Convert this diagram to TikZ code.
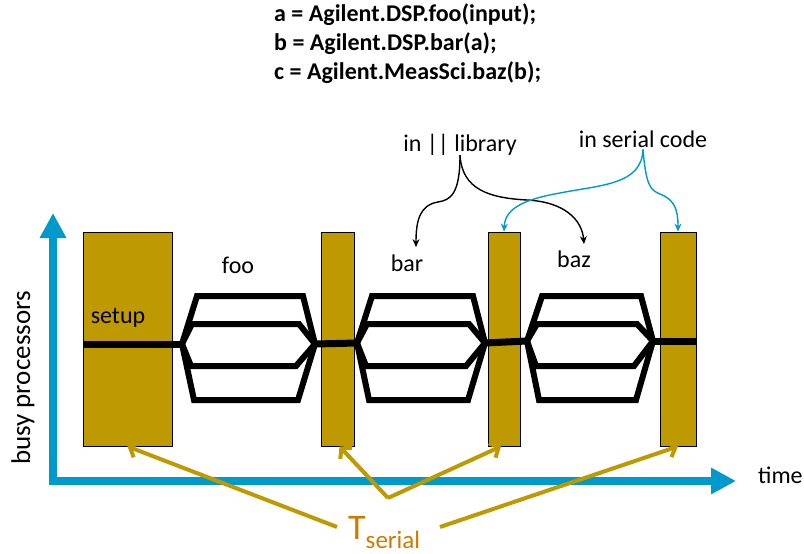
\documentclass[tikz,border=0pt]{standalone}
\usepackage{fontspec}
\setmainfont{Carlito}
\usetikzlibrary{arrows.meta}
\definecolor{axisblue}{RGB}{0,153,204}
\definecolor{boxgold}{RGB}{191,153,0}
\definecolor{tcol}{RGB}{204,122,0}
\newcommand\hexpar[4]{%
  \coordinate (#1L) at (#2,#4);
  \coordinate (#1R) at (#3,#4);
  \draw[hexline] (#1L) -- ({#2+15},296) -- ({#3-12},296) -- (#1R);
  \draw[hexline] (#1L) -- ({#2+10},324) -- ({#3-16},324) -- (#1R);
  \draw[hexline] (#1L) -- ({#2+9},366) -- ({#3-19},366) -- (#1R);
  \draw[hexline] (#1L) -- ({#2+12},400) -- ({#3-17},400) -- (#1R);
}
\begin{document}
\begin{tikzpicture}[x=1pt,y=-1pt,
  gbox/.style={draw=black, line width=0.8pt, fill=boxgold, inner sep=0pt, minimum height=214pt},
  thread/.style={line width=7pt, black},
  hexline/.style={line width=6pt, black},
  lbl/.style={font=\fontsize{24}{29}\selectfont, inner sep=0pt, anchor=base},
  codetxt/.style={font=\fontsize{24}{29}\selectfont\bfseries, inner sep=0pt, anchor=base west},
  axisline/.style={draw=axisblue, line width=8pt, {Triangle[length=25pt,width=25pt]}-{Triangle[length=25pt,width=25pt]}},
  garrow/.style={draw=boxgold, line width=4pt, -{Straight Barb[length=7pt,width=16pt]}},
  bcurve/.style={draw=axisblue, line width=1.4pt, -{Stealth[length=8pt,width=7pt]}},
  kcurve/.style={draw=black, line width=1.4pt, -{Stealth[length=8pt,width=7pt]}}
]
\useasboundingbox (0,0) rectangle (804,554);

% code
\node[codetxt] (c1) at (274,21) {a = Agilent.DSP.foo(input);};
\node[codetxt] (c2) at (274,50) {b = Agilent.DSP.bar(a);};
\node[codetxt] (c3) at (274,79) {c = Agilent.MeasSci.baz(b);};

% axes
\coordinate (ytop) at (53,213);
\coordinate (orig) at (53,481);
\coordinate (xend) at (736,481);
\draw[axisline] (ytop) -- (orig) -- (xend);
\node[lbl, font=\fontsize{27}{30}\selectfont, rotate=90, anchor=center] (busy) at (23,378) {busy processors};
\node[lbl, anchor=base west] (time) at (758,483) {time};

% serial boxes
\node[gbox, minimum width=89pt] (setup) at (127.5,339) {};
\node[gbox, minimum width=33pt] (b2) at (337.5,339) {};
\node[gbox, minimum width=32pt] (b3) at (504,339) {};
\node[gbox, minimum width=36pt] (b4) at (678,339) {};

% parallel sections
\hexpar{foo}{182}{315}{344}
\hexpar{bar}{357}{485}{343}
\hexpar{baz}{527}{653}{341}

% thread
\draw[thread] (setup.west |- fooL) -- (fooL);
\draw[thread] (fooR) -- (barL);
\draw[thread] (barR) -- (bazL);
\draw[thread] (bazR) -- (b4.east |- bazR);

% labels
\node[lbl] (setuplbl) at (118,323) {setup};
\node[lbl] (foolbl) at (238,273) {foo};
\node[lbl] (barlbl) at (407,271) {bar};
\node[lbl] (bazlbl) at (574,267) {baz};
\node[lbl] (lib) at (460,151) {in || library};
\node[lbl] (ser) at (643,147) {in serial code};

% annotation curves
\draw[kcurve] (lib.south) .. controls (460,195) and (450,200) .. (438,202)
  .. controls (420,205) and (416,220) .. ([xshift=9pt,yshift=7pt]barlbl.north);
\draw[kcurve] (lib.south) .. controls (462,190) and (490,198) .. (527,200)
  .. controls (565,202) and (582,220) .. ([xshift=10pt,yshift=6pt]bazlbl.north);
\draw[bcurve] ([yshift=-2pt]ser.south) .. controls (642,185) and (600,185) .. (560,193)
  .. controls (520,200) and (505,210) .. (b3.north);
\draw[bcurve] ([yshift=-2pt]ser.south) .. controls (646,185) and (650,190) .. (660,194)
  .. controls (675,200) and (678,210) .. (b4.north);

% T serial
\node[inner sep=0pt, anchor=base west, text=tcol] (ts) at (348,539)
  {{\fontsize{36}{36}\selectfont T}{\fontsize{25}{25}\selectfont\raisebox{-9pt}{serial}}};
\coordinate (tl) at (337,527);
\coordinate (tv) at (388,498);
\coordinate (tr) at (440,527);
\draw[garrow] (tl) -- (setup.south);
\draw[garrow] (tv) -- ([xshift=2pt]b2.south);
\draw[garrow] (tv) -- ([xshift=-3pt]b3.south);
\draw[garrow] (tr) -- (b4.south);
\end{tikzpicture}
\end{document}
